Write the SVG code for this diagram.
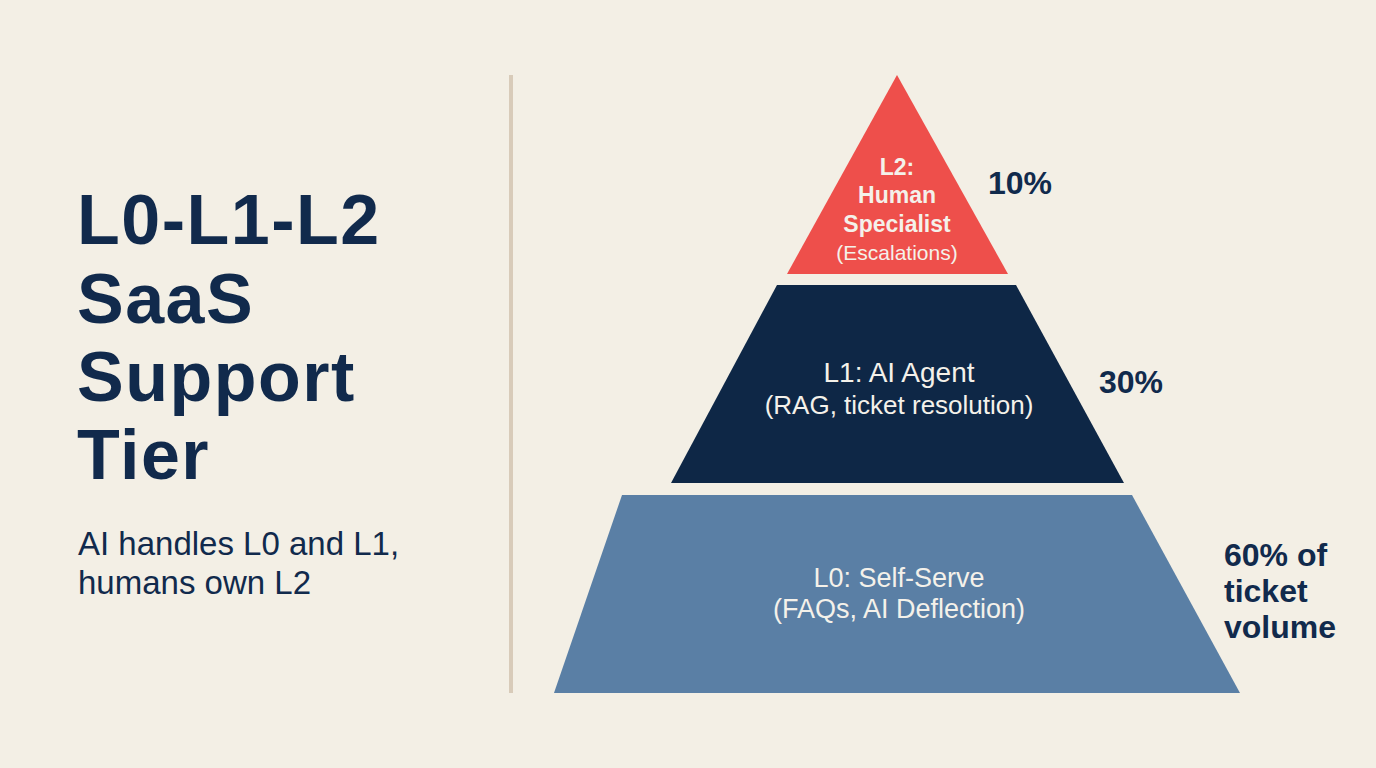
<svg xmlns="http://www.w3.org/2000/svg" width="1376" height="768" viewBox="0 0 1376 768">
<style>
.title{font-family:"Liberation Sans",Arial,sans-serif;font-weight:700;font-size:70px;letter-spacing:1.5px;fill:#112a4c}
.sub{font-family:"Liberation Sans",Arial,sans-serif;font-size:33px;fill:#112a4c}
.pct{font-family:"Liberation Sans",Arial,sans-serif;font-weight:700;font-size:32px;fill:#112a4c}
.in{font-family:"Liberation Sans",Arial,sans-serif;fill:#f4f1ea;text-anchor:middle}
.b{font-weight:700}
</style>
<rect width="1376" height="768" fill="#f3efe5"/>
<g id="title">
<text class="title" x="77" y="244">L0-L1-L2</text>
<text class="title" x="77" y="323">SaaS</text>
<text class="title" x="77" y="401">Support</text>
<text class="title" x="77" y="479">Tier</text>
<text class="sub" x="78" y="555">AI handles L0 and L1,</text>
<text class="sub" x="78" y="594">humans own L2</text>
</g>
<line id="divider" x1="511" y1="75" x2="511" y2="693" stroke="#d8cbb9" stroke-width="4"/>
<g id="L2">
<polygon points="897,75 1008,274 787,274" fill="#ee4f4b"/>
<text class="in b" x="897" y="175" font-size="23">L2:</text>
<text class="in b" x="897" y="203" font-size="23">Human</text>
<text class="in b" x="897" y="232" font-size="23">Specialist</text>
<text class="in" x="897" y="260" font-size="21">(Escalations)</text>
<text class="pct" x="988" y="194">10%</text>
</g>
<g id="L1">
<polygon points="777,285 1016,285 1124,483 671,483" fill="#0e2746"/>
<text class="in" x="899" y="382" font-size="28">L1: AI Agent</text>
<text class="in" x="899" y="414" font-size="26">(RAG, ticket resolution)</text>
<text class="pct" x="1099" y="393" font-size="33">30%</text>
</g>
<g id="L0">
<polygon points="622,495 1132,495 1240,693 554,693" fill="#5a7fa5"/>
<text class="in" x="899" y="587" font-size="27">L0: Self-Serve</text>
<text class="in" x="899" y="618" font-size="27">(FAQs, AI Deflection)</text>
<text class="pct" x="1224" y="566">60% of</text>
<text class="pct" x="1224" y="602">ticket</text>
<text class="pct" x="1224" y="638">volume</text>
</g>
</svg>
